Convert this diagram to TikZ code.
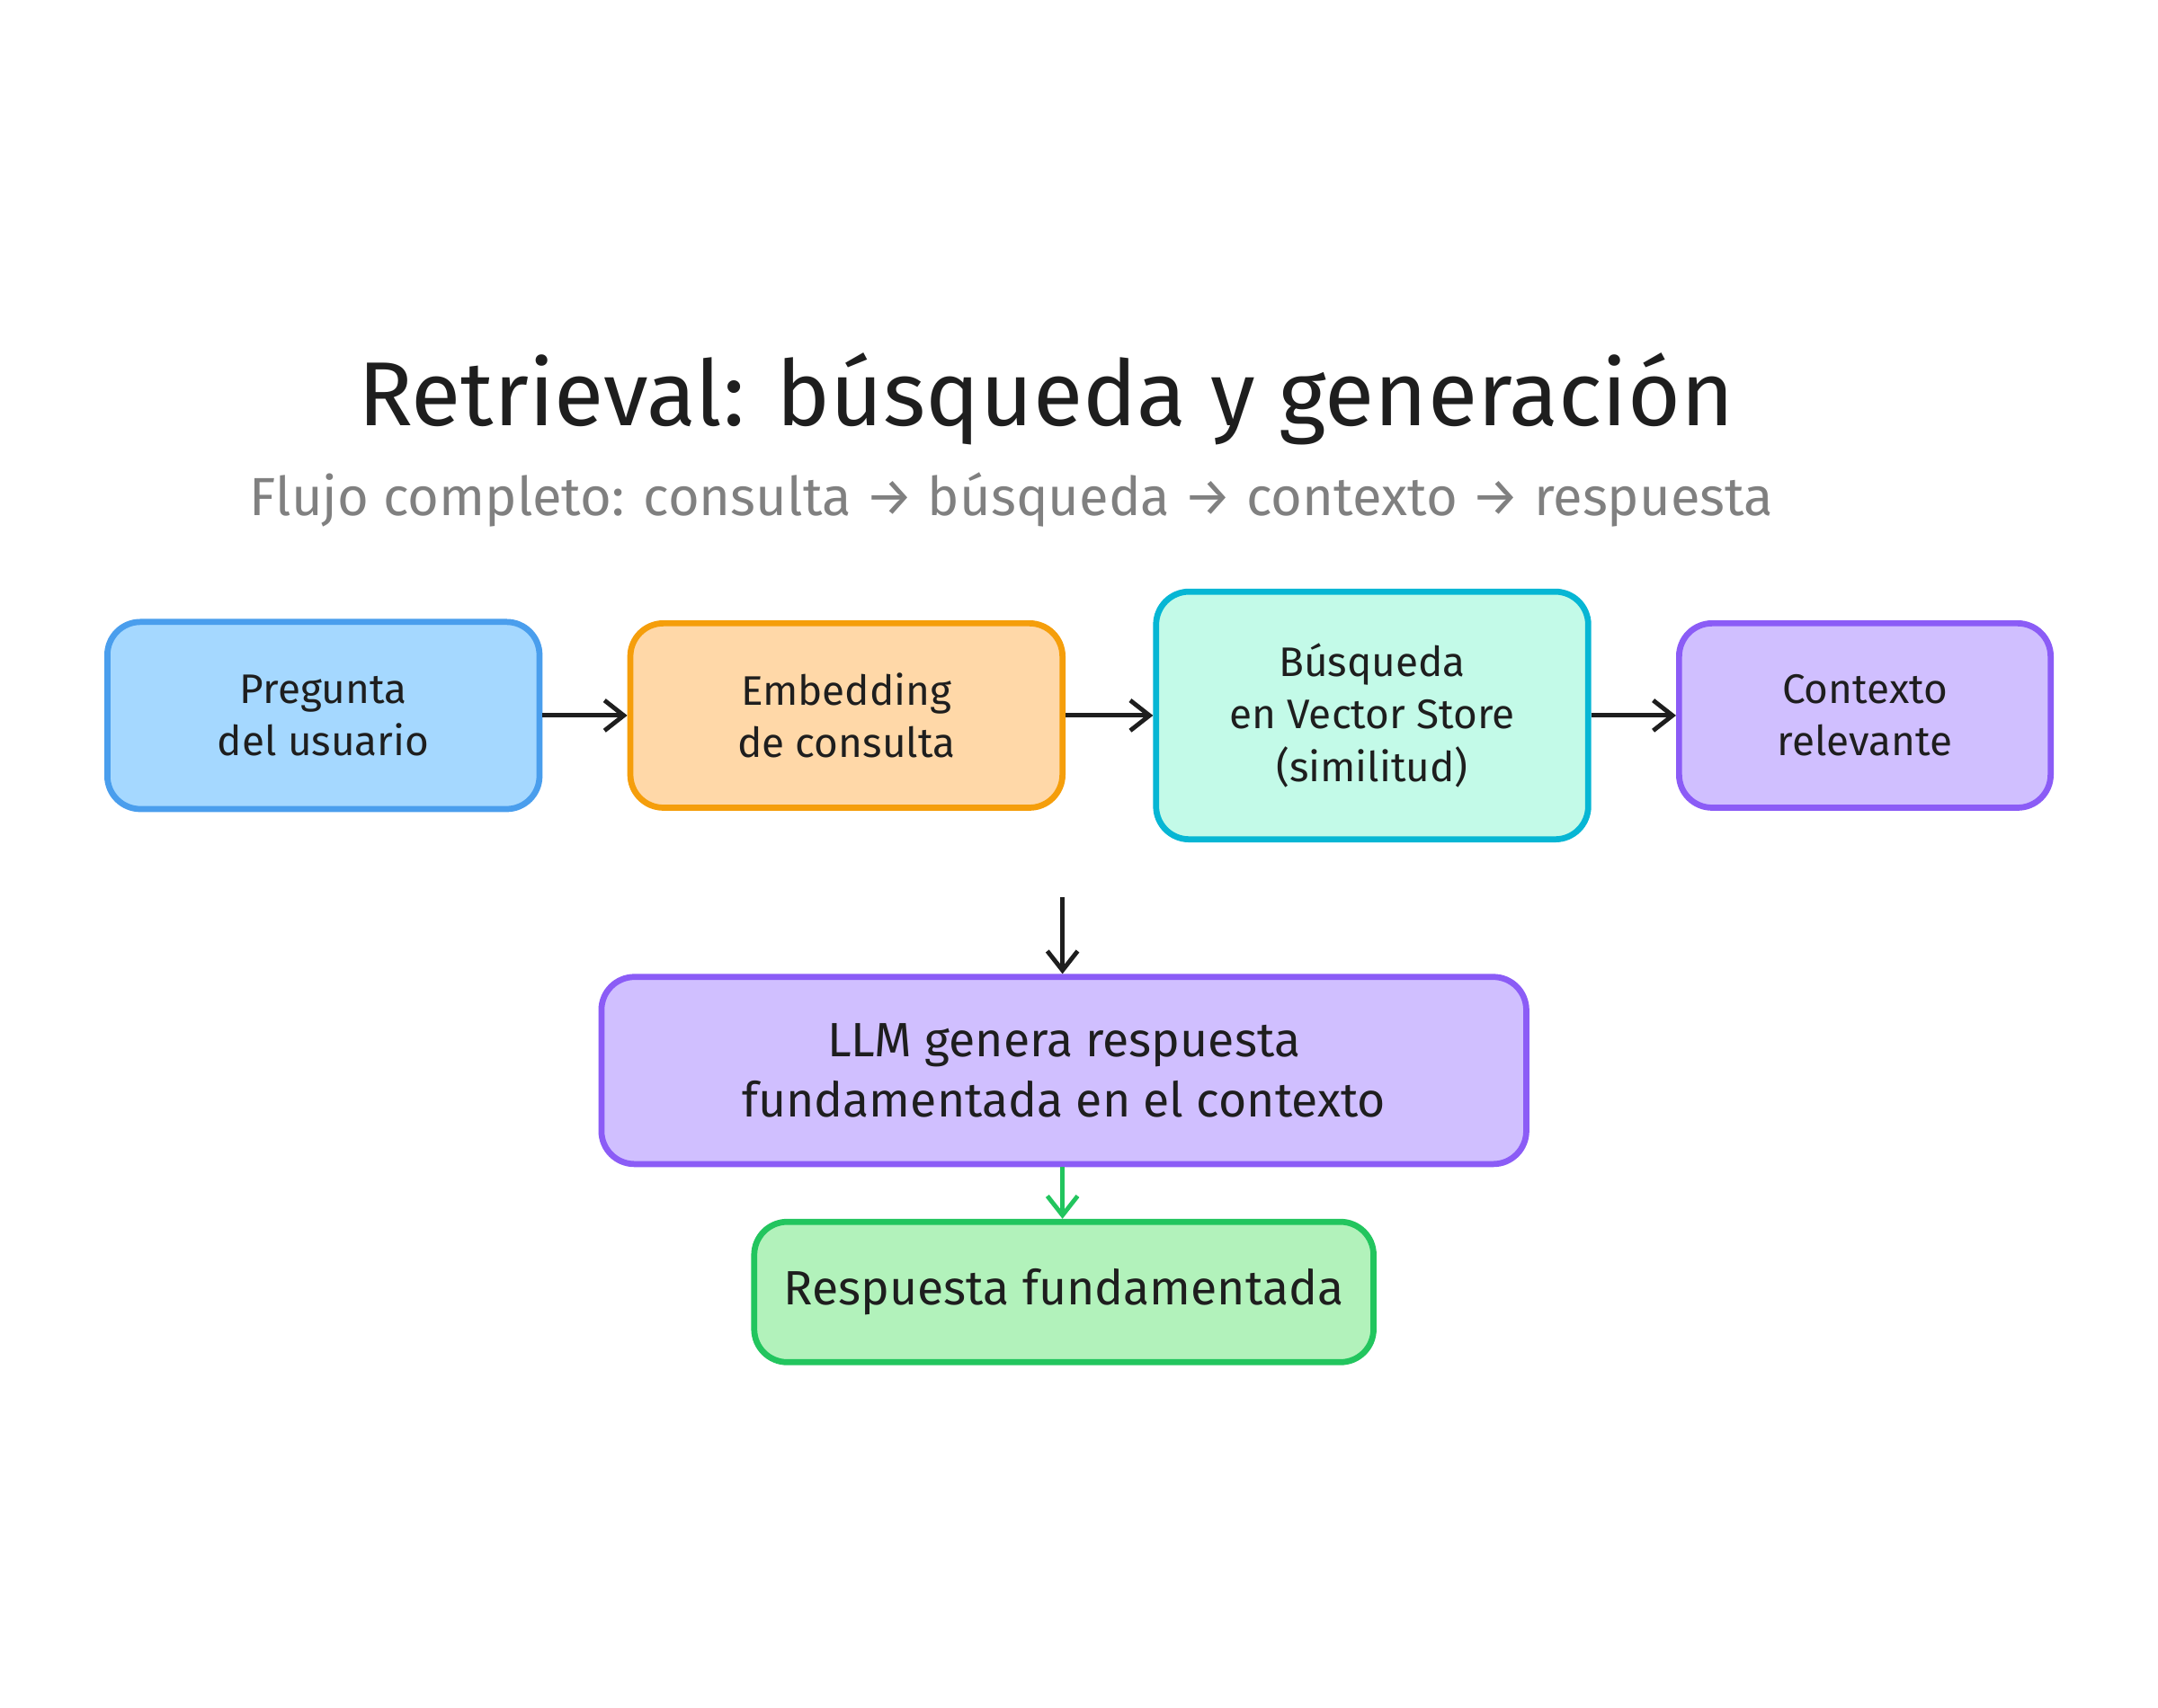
\documentclass[tikz,border=0pt]{standalone}
\usepackage{fontspec}
\setmainfont{Fira Sans}
\usetikzlibrary{arrows.meta}
\definecolor{bF}{HTML}{A5D8FF}\definecolor{bS}{HTML}{4A9EED}
\definecolor{oF}{HTML}{FFD8A8}\definecolor{oS}{HTML}{F59E0B}
\definecolor{cF}{HTML}{C3FAE8}\definecolor{cS}{HTML}{06B6D4}
\definecolor{pF}{HTML}{D0BFFF}\definecolor{pS}{HTML}{8B5CF6}
\definecolor{gF}{HTML}{B2F2BB}\definecolor{gS}{HTML}{22C55E}
\definecolor{ink}{HTML}{1E1E1E}
\begin{document}
\begin{tikzpicture}[x=0.5pt,y=-0.5pt,
 box/.style={draw,line width=2.2pt,rounded corners=12pt,align=center,font=\fontsize{15}{19}\selectfont,text=ink,inner sep=0pt},
 arr/.style={-{Straight Barb[length=7pt,width=11pt]},line width=1.6pt,draw=ink}]
\useasboundingbox (0,0) rectangle (1568,1241);
\node[font=\fontsize{33}{38}\selectfont,text=ink] (t) at (760,290) {Retrieval: búsqueda y generación};
\node[font=\fontsize{19.5}{22}\selectfont,text=gray] (s) at (735,363) {Flujo completo: consulta → búsqueda → contexto → respuesta};
\node[box,fill=bF,draw=bS,minimum width=157pt,minimum height=68pt] (a) at (235,520) {Pregunta\\del usuario};
\node[box,fill=oF,draw=oS,minimum width=157pt,minimum height=67pt] (b) at (615,520) {Embedding\\de consulta};
\node[box,fill=cF,draw=cS,minimum width=157pt,minimum height=90pt] (c) at (997,520) {Búsqueda\\en Vector Store\\(similitud)};
\node[box,fill=pF,draw=pS,minimum width=135pt,minimum height=67pt] (d) at (1355,520) {Contexto\\relevante};
\node[box,fill=pF,draw=pS,minimum width=336pt,minimum height=68pt,font=\fontsize{17.5}{22}\selectfont] (e) at (773,778) {LLM genera respuesta\\fundamentada en el contexto};
\node[box,fill=gF,draw=gS,minimum width=225pt,minimum height=51pt,font=\fontsize{17.5}{20}\selectfont] (f) at (773,939) {Respuesta fundamentada};
\draw[arr] (a) -- (b);
\draw[arr] (b) -- (c);
\draw[arr] (c) -- (d);
\coordinate (k) at (772,652);
\draw[arr] (k) -- (e.north -| k);
\draw[arr,draw=gS] (e.south -| k) -- (f.north -| k);
\end{tikzpicture}
\end{document}
